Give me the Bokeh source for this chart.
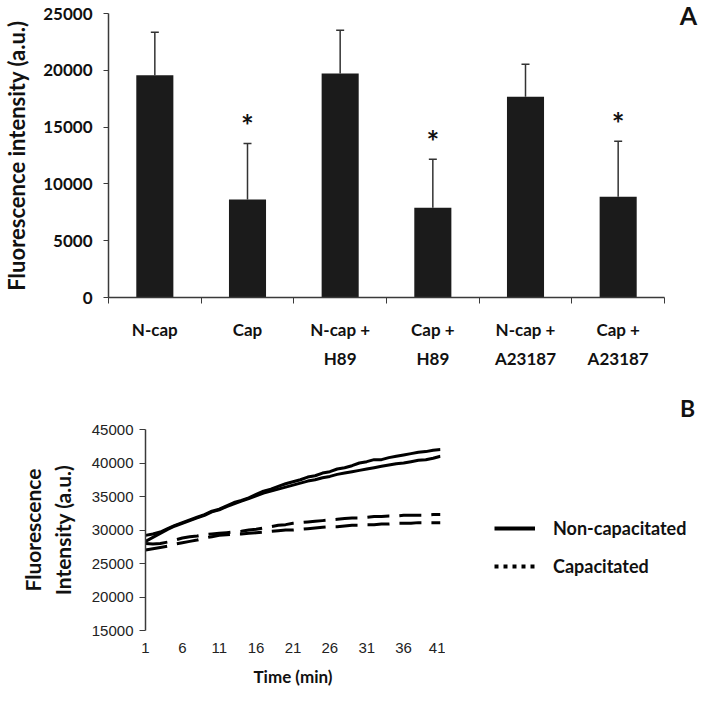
from bokeh.plotting import figure
from bokeh.models import (ColumnDataSource, Range1d, FixedTicker, Whisker, TeeHead,
                          Label, Legend, LegendItem)
from bokeh.layouts import column, row
from bokeh.core.properties import value
from bokeh.embed import file_html
from bokeh.resources import INLINE

# ---------------- Panel A data ----------------
categories = ["N-cap", "Cap", "N-cap +\nH89", "Cap +\nH89", "N-cap +\nA23187", "Cap +\nA23187"]
means = [19570, 8630, 19720, 7900, 17670, 8860]
sds = [3780, 4930, 3810, 4280, 2870, 4900]
significant = [False, True, False, True, False, True]
a_yticks = [0, 5000, 10000, 15000, 20000, 25000]

# ---------------- Panel B data ----------------
time_min = list(range(1, 42))
time_ticks = [1, 6, 11, 16, 21, 26, 31, 36, 41]
b_yticks = [15000, 20000, 25000, 30000, 35000, 40000, 45000]
noncap_1 = [29200, 29400, 29700, 30200, 30700, 31100, 31500, 31900, 32300, 32800,
            33100, 33600, 34100, 34400, 34800, 35300, 35800, 36100, 36500, 36900,
            37200, 37500, 37900, 38100, 38500, 38700, 39100, 39300, 39600, 40000,
            40200, 40500, 40500, 40800, 41000, 41200, 41400, 41600, 41700, 41900, 42000]
noncap_2 = [28300, 28900, 29500, 30100, 30600, 31000, 31400, 31800, 32200, 32700,
            33000, 33500, 33900, 34300, 34700, 35100, 35500, 35800, 36100, 36400,
            36700, 37000, 37300, 37500, 37800, 38000, 38300, 38500, 38700, 38900,
            39100, 39300, 39500, 39700, 39900, 40000, 40200, 40400, 40500, 40700, 41000]
cap_1 = [28000, 27900, 28000, 28200, 28500, 28800, 29000, 29100, 29300, 29400,
         29500, 29600, 29700, 29800, 30000, 30100, 30300, 30500, 30700, 30800,
         31000, 31100, 31200, 31300, 31400, 31500, 31600, 31700, 31800, 31800,
         31900, 32000, 32000, 32100, 32100, 32200, 32200, 32200, 32200, 32300, 32300]
cap_2 = [27000, 27200, 27400, 27600, 27900, 28100, 28300, 28500, 28800, 29000,
         29200, 29300, 29400, 29400, 29500, 29600, 29700, 29800, 29900, 30000,
         30000, 30100, 30200, 30300, 30400, 30500, 30500, 30600, 30700, 30700,
         30800, 30800, 30900, 30900, 31000, 31000, 31000, 31100, 31100, 31100, 31100]
legend_labels = ["Non-capacitated", "Capacitated"]

BOLD_FONT = "Lato"
AX_COLOR = "#3a3a3a"


def blank_figure(w, h):
    f = figure(width=w, height=h, output_backend="svg", toolbar_location=None,
               x_axis_type=None, y_axis_type=None, x_range=Range1d(0, 1),
               y_range=Range1d(0, 1), min_border=0)
    f.outline_line_color = None
    f.grid.grid_line_color = None
    return f


# ================= Panel A =================
xpos = [i + 0.5 for i in range(len(categories))]
upper = [m + s for m, s in zip(means, sds)]
src_a = ColumnDataSource(dict(
    x=xpos, mean=means, lower=means, upper=upper,
    star=["*" if s else "" for s in significant],
    star_y=[u + 1600 for u in upper],
))

pa = figure(width=670, height=390, output_backend="svg", toolbar_location=None,
            x_range=Range1d(0, len(categories)), y_range=Range1d(0, 25000),
            min_border_left=100, min_border_right=6, min_border_top=13,
            min_border_bottom=93)
pa.outline_line_color = None
pa.grid.grid_line_color = None

pa.vbar(x="x", top="mean", bottom=0, width=0.4, source=src_a,
        fill_color="#1b1b1b", line_color=None)
pa.add_layout(Whisker(base="x", lower="lower", upper="upper", source=src_a,
                      line_color="#333333", line_width=1.5,
                      upper_head=TeeHead(size=8, line_color="#333333", line_width=1.5),
                      lower_head=None))
pa.text(x="x", y="star_y", text="star", source=src_a, text_font=value(BOLD_FONT),
        text_font_size="30px", text_font_style="bold", text_align="center",
        text_baseline="middle", text_color="#111111")

xa = pa.xaxis[0]
xa.ticker = FixedTicker(ticks=xpos, minor_ticks=list(range(len(categories) + 1)))
xa.major_label_overrides = {x: c for x, c in zip(xpos, categories)}
xa.major_tick_out = 0
xa.major_tick_in = 0
xa.minor_tick_out = 6
xa.minor_tick_in = 0
xa.minor_tick_line_color = AX_COLOR
xa.axis_line_color = AX_COLOR
xa.axis_line_width = 1.5
xa.major_label_standoff = 15
xa.major_label_text_font = BOLD_FONT
xa.major_label_text_font_style = "bold"
xa.major_label_text_font_size = "17px"
xa.major_label_text_color = "#111111"
xa.major_label_text_line_height = 1.4

ya = pa.yaxis[0]
ya.ticker = FixedTicker(ticks=a_yticks)
ya.major_tick_out = 5
ya.major_tick_in = 0
ya.minor_tick_line_color = None
ya.major_tick_line_color = AX_COLOR
ya.axis_line_color = AX_COLOR
ya.axis_line_width = 1.5
ya.major_label_standoff = 11
ya.major_label_text_font = BOLD_FONT
ya.major_label_text_font_style = "bold"
ya.major_label_text_font_size = "17px"
ya.major_label_text_color = "#111111"
ya.axis_label = "Fluorescence intensity (a.u.)"
ya.axis_label_text_font = BOLD_FONT
ya.axis_label_text_font_style = "bold"
ya.axis_label_text_font_size = "22px"
ya.axis_label_text_color = "#111111"
ya.axis_label_standoff = 10

fa = blank_figure(28, 390)
fa.add_layout(Label(x=18, y=376, x_units="screen", y_units="screen", text="A",
                    text_font=BOLD_FONT, text_font_style="bold", text_font_size="25px",
                    text_align="center", text_baseline="middle", text_color="#111111"))

# ================= Panel B =================
pb = figure(width=445, height=299, output_backend="svg", toolbar_location=None,
            x_range=Range1d(1, 41), y_range=Range1d(15000, 45000),
            min_border_left=145, min_border_right=5, min_border_top=39,
            min_border_bottom=54)
pb.outline_line_color = None
pb.grid.grid_line_color = None

src_b = ColumnDataSource(dict(t=time_min, n1=noncap_1, n2=noncap_2, c1=cap_1, c2=cap_2))
for col in ["n1", "n2"]:
    pb.line(x="t", y=col, source=src_b, line_color="#000000", line_width=3,
            line_join="round")
for col in ["c1", "c2"]:
    pb.line(x="t", y=col, source=src_b, line_color="#000000", line_width=3,
            line_dash="22 10", line_join="round")

xb = pb.xaxis[0]
xb.ticker = FixedTicker(ticks=time_ticks)
xb.axis_line_color = None
xb.major_tick_line_color = None
xb.minor_tick_line_color = None
xb.major_label_standoff = 6
xb.major_label_text_font = "Liberation Sans"
xb.major_label_text_font_size = "15px"
xb.major_label_text_color = "#222222"
xb.axis_label = "Time (min)"
xb.axis_label_text_font = BOLD_FONT
xb.axis_label_text_font_style = "bold"
xb.axis_label_text_font_size = "17px"
xb.axis_label_text_color = "#111111"
xb.axis_label_standoff = 10

yb = pb.yaxis[0]
yb.ticker = FixedTicker(ticks=b_yticks)
yb.major_tick_out = 6
yb.major_tick_in = 0
yb.minor_tick_line_color = None
yb.major_tick_line_color = AX_COLOR
yb.axis_line_color = AX_COLOR
yb.axis_line_width = 1.5
yb.major_label_standoff = 6
yb.major_label_text_font = "Liberation Sans"
yb.major_label_text_font_size = "15px"
yb.major_label_text_color = "#222222"
yb.axis_label = "Fluorescence\nIntensity (a.u.)"
yb.axis_label_text_font = BOLD_FONT
yb.axis_label_text_font_style = "bold"
yb.axis_label_text_font_size = "21px"
yb.axis_label_text_color = "#111111"
yb.axis_label_text_line_height = 1.2
yb.axis_label_standoff = 14

# legend + "B" panel to the right of panel B
fb = blank_figure(253, 299)
nan = float("nan")
dummy = ColumnDataSource(dict(x=[nan], y=[nan]))
leg_solid = fb.line(x="x", y="y", source=dummy, line_color="#000000", line_width=4)
leg_dot = fb.line(x="x", y="y", source=dummy, line_color="#000000", line_width=4,
                  line_dash="4 5")
legend = Legend(items=[LegendItem(label=legend_labels[0], renderers=[leg_solid]),
                       LegendItem(label=legend_labels[1], renderers=[leg_dot])],
                location=(49, 112), orientation="vertical",
                glyph_width=41, glyph_height=20, label_height=20, spacing=16,
                label_standoff=18, padding=0, margin=0,
                border_line_color=None, background_fill_alpha=0,
                label_text_font=BOLD_FONT, label_text_font_style="bold",
                label_text_font_size="18px", label_text_color="#111111")
fb.add_layout(legend)
fb.add_layout(Label(x=242, y=282, x_units="screen", y_units="screen", text="B",
                    text_font=BOLD_FONT, text_font_style="bold", text_font_size="23px",
                    text_align="center", text_baseline="middle", text_color="#111111"))

layout = column(row(column(pa), column(fa)), row(column(pb), column(fb)))
open("out.html", "w").write(file_html(layout, INLINE))
